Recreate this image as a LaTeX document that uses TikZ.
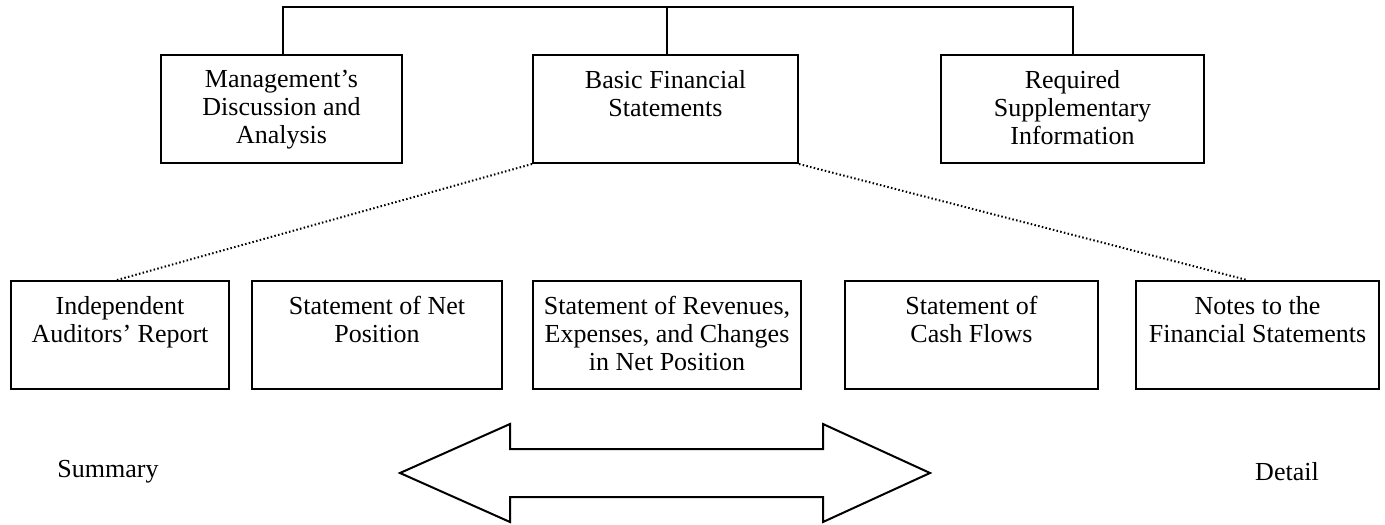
\documentclass[tikz,border=0pt]{standalone}
\usepackage{fontspec}
\setmainfont{Liberation Serif}
\usetikzlibrary{calc}
\newcommand{\bx}[3]{\parbox[c][#2pt][t]{#1pt}{\centering\vspace*{15pt}#3}}
\begin{document}
\begin{tikzpicture}[x=1pt,y=-1pt,
  box/.style={draw, line width=2pt, inner sep=0pt, anchor=north west, font=\fontsize{26}{28}\selectfont},
  conn/.style={line width=2pt},
  dots/.style={line width=2pt, dash pattern=on 1.5pt off 2.3pt},
  lbl/.style={font=\fontsize{26}{28}\selectfont}]
\useasboundingbox (0,0) rectangle (1385,525);
% top row
\node[box] (mda) at (160,54) {\bx{241}{108}{Management's\\Discussion and\\Analysis}};
\node[box] (bfs) at (532,54) {\bx{265}{108}{Basic Financial\\Statements}};
\node[box] (rsi) at (940,54) {\bx{263}{108}{Required\\Supplementary\\Information}};
\coordinate (t1) at (283,7);
\coordinate (t2) at (667,7);
\coordinate (t3) at (1073,7);
\draw[conn] (mda.north -| t1) -- (t1) -- (t3) -- (rsi.north -| t3);
\draw[conn] (t2) -- (bfs.north -| t2);
% bottom row
\node[box] (iar) at (10,280) {\bx{218}{108}{Independent\\Auditors' Report}};
\node[box] (snp) at (251,280) {\bx{250}{108}{Statement of Net\\Position}};
\node[box] (sre) at (532,280) {\bx{268}{108}{Statement of Revenues,\\Expenses, and Changes\\in Net Position}};
\node[box] (scf) at (844,280) {\bx{253}{108}{Statement of\\Cash Flows}};
\node[box] (nfs) at (1135,280) {\bx{243}{108}{Notes to the\\Financial Statements}};
% dotted fans
\coordinate (d1) at (117,280);
\coordinate (d2) at (1247,280);
\draw[dots] (bfs.south west) -- (d1);
\draw[dots] (bfs.south east) -- (d2);
% double arrow
\draw[line width=2pt, line join=miter] (400,473) -- (510,424) -- (510,449) -- (823,449) -- (823,424) -- (930,473)
  -- (823,522) -- (823,497) -- (510,497) -- (510,522) -- cycle;
\node[lbl] (sum) at (108,472) {Summary};
\node[lbl] (det) at (1287,472) {Detail};
\end{tikzpicture}
\end{document}
